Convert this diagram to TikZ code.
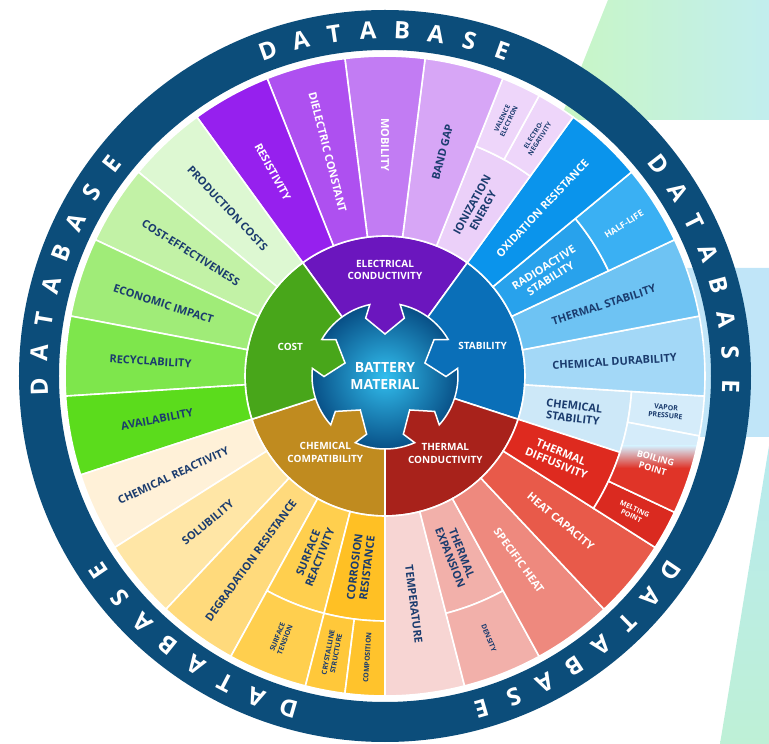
\documentclass[tikz,border=0pt]{standalone}
\usepackage{fontspec}
\setmainfont{Open Sans}
\usetikzlibrary{positioning}

% colours
\definecolor{ringblue}{RGB}{12,77,122}
\definecolor{navytext}{RGB}{27,60,110}
\definecolor{bggreen}{RGB}{200,246,196}
\definecolor{bgcyan}{RGB}{194,238,238}
\definecolor{bgblue}{RGB}{192,229,248}
\definecolor{bgmint}{RGB}{190,240,214}
\definecolor{bgmintb}{RGB}{184,234,238}
\definecolor{hubinner}{RGB}{50,190,238}
\definecolor{hubouter}{RGB}{8,80,135}
% electrical conductivity
\definecolor{ecmid}{RGB}{107,22,190}
\definecolor{resist}{RGB}{150,32,238}
\definecolor{dielec}{RGB}{174,80,240}
\definecolor{mobil}{RGB}{194,124,243}
\definecolor{bandgap}{RGB}{215,166,246}
\definecolor{ioniz}{RGB}{235,208,249}
\definecolor{valence}{RGB}{238,214,250}
% stability
\definecolor{stabmid}{RGB}{10,111,184}
\definecolor{oxid}{RGB}{10,148,236}
\definecolor{radio}{RGB}{40,162,236}
\definecolor{halflife}{RGB}{58,176,243}
\definecolor{thstab}{RGB}{110,195,243}
\definecolor{chemdur}{RGB}{163,216,247}
\definecolor{chemstab}{RGB}{205,232,248}
\definecolor{vapor}{RGB}{213,236,250}
% thermal conductivity
\definecolor{tcmid}{RGB}{168,34,27}
\definecolor{thdiff}{RGB}{222,42,31}
\definecolor{melt}{RGB}{218,42,32}
\definecolor{boilred}{RGB}{224,52,40}
\definecolor{heatcap}{RGB}{232,90,74}
\definecolor{spheat}{RGB}{238,137,126}
\definecolor{thexp}{RGB}{242,176,170}
\definecolor{temper}{RGB}{247,213,211}
% chemical compatibility
\definecolor{ccmid}{RGB}{192,139,31}
\definecolor{corros}{RGB}{255,192,36}
\definecolor{compos}{RGB}{255,195,44}
\definecolor{crystal}{RGB}{255,200,58}
\definecolor{surfreact}{RGB}{255,207,78}
\definecolor{degrad}{RGB}{255,218,124}
\definecolor{solub}{RGB}{255,230,166}
\definecolor{chemreact}{RGB}{255,241,216}
% cost
\definecolor{costmid}{RGB}{72,166,26}
\definecolor{avail}{RGB}{91,220,28}
\definecolor{recyc}{RGB}{126,230,76}
\definecolor{econ}{RGB}{160,236,120}
\definecolor{costeff}{RGB}{194,242,166}
\definecolor{prodcost}{RGB}{221,248,210}

% one cell of the outer wheel: start angle, end angle, inner r, outer r, colour
\newcommand{\ringcell}[5]{%
  \filldraw[fill=#5, draw=white, line width=1.6pt]
    (#1:#3) arc[start angle=#1, end angle=#2, radius=#3]
    -- (#2:#4) arc[start angle=#2, end angle=#1, radius=#4] -- cycle;}
% one wedge of the category ring
\newcommand{\catwedge}[3]{%
  \filldraw[fill=#3, draw=white, line width=1.6pt]
    (0,0) -- (#1:140pt) arc[start angle=#1, end angle=#2, radius=140pt] -- cycle;}

\tikzset{
  lbl/.style={font=\bfseries\fontsize{11}{12.5}\selectfont, text=navytext, align=center, inner sep=0pt},
  lblwhite/.style={lbl, text=white},
  smalllbl/.style={font=\bfseries\fontsize{7}{8}\selectfont, text=navytext, align=center, inner sep=0pt},
  smallwhite/.style={smalllbl, text=white},
  midwhite/.style={font=\bfseries\fontsize{9}{10.5}\selectfont, text=white, align=center, inner sep=0pt},
  catlbl/.style={font=\bfseries\fontsize{10}{12.5}\selectfont, text=white, align=center, inner sep=0pt},
  dbletter/.style={font=\bfseries\fontsize{24}{24}\selectfont, text=white, inner sep=0pt}
}

\begin{document}
\begin{tikzpicture}
  \useasboundingbox (-385pt,-368pt) rectangle (384pt,376pt);

  % pale shapes behind the wheel
  \shade[left color=bggreen, right color=bgcyan] (223pt,376pt) -- (384pt,376pt) -- (384pt,256pt) -- (175pt,256pt) -- cycle;
  \fill[bgblue] (230pt,108pt) -- (384pt,108pt) -- (384pt,-61pt) -- (215pt,-61pt) -- cycle;
  \shade[top color=bgmintb, bottom color=bgmint] (384pt,-70pt) -- (384pt,-368pt) -- (335pt,-368pt) -- cycle;

  % outer ring
  \fill[ringblue, even odd rule] (0,0) circle[radius=366pt] (0,0) circle[radius=326pt];

  % category wedges
  \catwedge{54}{126}{ecmid}
  \catwedge{-18}{54}{stabmid}
  \catwedge{-90}{-18}{tcmid}
  \catwedge{198}{270}{ccmid}
  \catwedge{126}{198}{costmid}

  % stability
  \ringcell{-18}{-3.6}{140pt}{247pt}{chemstab}
  \ringcell{-10.8}{-3.6}{247pt}{320pt}{vapor}
  \ringcell{-3.6}{10.8}{140pt}{320pt}{chemdur}
  \ringcell{10.8}{25.2}{140pt}{320pt}{thstab}
  \ringcell{25.2}{39.6}{140pt}{247pt}{radio}
  \ringcell{25.2}{39.6}{247pt}{320pt}{halflife}
  \ringcell{39.6}{54}{140pt}{320pt}{oxid}
  % electrical conductivity
  \ringcell{54}{68.4}{140pt}{247pt}{ioniz}
  \ringcell{54}{61.2}{247pt}{320pt}{valence}
  \ringcell{61.2}{68.4}{247pt}{320pt}{valence}
  \ringcell{68.4}{82.8}{140pt}{320pt}{bandgap}
  \ringcell{82.8}{97.2}{140pt}{320pt}{mobil}
  \ringcell{97.2}{111.6}{140pt}{320pt}{dielec}
  \ringcell{111.6}{126}{140pt}{320pt}{resist}
  % cost
  \ringcell{126}{140.4}{140pt}{320pt}{prodcost}
  \ringcell{140.4}{154.8}{140pt}{320pt}{costeff}
  \ringcell{154.8}{169.2}{140pt}{320pt}{econ}
  \ringcell{169.2}{183.6}{140pt}{320pt}{recyc}
  \ringcell{183.6}{198}{140pt}{320pt}{avail}
  % chemical compatibility
  \ringcell{198}{212.4}{140pt}{320pt}{chemreact}
  \ringcell{212.4}{226.8}{140pt}{320pt}{solub}
  \ringcell{226.8}{241.2}{140pt}{320pt}{degrad}
  \ringcell{241.2}{255.6}{140pt}{245pt}{surfreact}
  \ringcell{241.2}{255.6}{245pt}{320pt}{surfreact}
  \ringcell{255.6}{270}{140pt}{245pt}{corros}
  \ringcell{255.6}{262.8}{245pt}{320pt}{crystal}
  \ringcell{262.8}{270}{245pt}{320pt}{compos}
  % thermal conductivity
  \ringcell{270}{284.4}{140pt}{320pt}{temper}
  \ringcell{284.4}{298.8}{140pt}{245pt}{thexp}
  \ringcell{284.4}{298.8}{245pt}{320pt}{thexp}
  \ringcell{298.8}{313.2}{140pt}{320pt}{spheat}
  \ringcell{313.2}{327.6}{140pt}{320pt}{heatcap}
  \ringcell{327.6}{342}{140pt}{247pt}{thdiff}
  \ringcell{327.6}{334.8}{247pt}{320pt}{melt}

  % boiling point, fading from blue into red
  \begin{scope}
    \clip (334.8:247pt) arc[start angle=334.8, end angle=349.2, radius=247pt]
      -- (349.2:320pt) arc[start angle=349.2, end angle=334.8, radius=320pt] -- cycle;
    \fill[vapor] (200pt,-30pt) rectangle (330pt,-70pt);
    \shade[top color=vapor, bottom color=boilred] (200pt,-70pt) rectangle (330pt,-92pt);
    \fill[boilred] (200pt,-92pt) rectangle (330pt,-150pt);
  \end{scope}
  \draw[white, line width=1.6pt] (334.8:247pt) arc[start angle=334.8, end angle=349.2, radius=247pt]
      -- (349.2:320pt) arc[start angle=349.2, end angle=334.8, radius=320pt] -- cycle;

  % hub with five arrow notches
  \shadedraw[inner color=hubinner, outer color=hubouter, draw=white, line width=1.5pt]
    (54:73pt) \foreach \c in {90,162,234,306,378} {
      arc[start angle=\c-36, end angle=\c-12, radius=73pt]
      -- (\c-18.5:61pt) -- (\c:42pt) -- (\c+18.5:61pt) -- (\c+12:73pt)
      arc[start angle=\c+12, end angle=\c+36, radius=73pt]
    } -- cycle;
  \node[font=\bfseries\fontsize{14}{17}\selectfont, text=white, align=center] (core) at (0,0) {BATTERY\\MATERIAL};

  % category labels
  \node[catlbl] (ecl) at (90:106pt) {ELECTRICAL\\CONDUCTIVITY};
  \node[catlbl] (stabl) at (17:102pt) {STABILITY};
  \node[catlbl] (tcl) at (-52:98pt) {THERMAL\\CONDUCTIVITY};
  \node[catlbl] (ccl) at (-128:97pt) {CHEMICAL\\COMPATIBILITY};
  \node[catlbl] (costl) at (163:99pt) {COST};

  % stability labels
  \node[lbl, rotate=-7] (chemstabl) at (-10.8:192pt) {CHEMICAL\\STABILITY};
  \node[smalllbl, rotate=-5] (vaporl) at (-7.2:283pt) {VAPOR\\PRESSURE};
  \node[midwhite, rotate=-16] (boill) at (-18:283pt) {BOILING\\POINT};
  \node[lbl, rotate=3.6] (chemdurl) at (3.6:230pt) {CHEMICAL DURABILITY};
  \node[lbl, rotate=18] (thstabl) at (18:230pt) {THERMAL STABILITY};
  \node[lblwhite, rotate=32.4] (radiol) at (32.4:192pt) {RADIOACTIVE\\STABILITY};
  \node[midwhite, rotate=32.4] (halfl) at (32.4:283pt) {HALF-LIFE};
  \node[lblwhite, rotate=46.8] (oxidl) at (46.8:230pt) {OXIDATION RESISTANCE};
  % electrical conductivity labels
  \node[lbl, rotate=61.2] (ionl) at (61.2:192pt) {IONIZATION\\ENERGY};
  \node[smalllbl, font=\bfseries\fontsize{6.5}{7.5}\selectfont, rotate=57.6] (negl) at (57.6:283pt) {ELECTRO-\\NEGATIVITY};
  \node[smalllbl, font=\bfseries\fontsize{6.5}{7.5}\selectfont, rotate=64.8] (vall) at (64.8:283pt) {VALENCE\\ELECTRON};
  \node[lbl, rotate=75.6] (bandl) at (75.6:231pt) {BAND GAP};
  \node[lblwhite, rotate=-90] (mobl) at (90:231pt) {MOBILITY};
  \node[lblwhite, rotate=-75.6] (diell) at (104.4:231pt) {DIELECTRIC CONSTANT};
  \node[lblwhite, rotate=-61.2] (resl) at (118.8:233pt) {RESISTIVITY};
  % cost labels
  \node[lbl, rotate=-46.8] (prodl) at (133.2:230pt) {PRODUCTION COSTS};
  \node[lbl, rotate=-32.4] (costeffl) at (147.6:230pt) {COST-EFFECTIVENESS};
  \node[lbl, rotate=-18] (econl) at (162:233pt) {ECONOMIC IMPACT};
  \node[lbl, rotate=-3.6] (recycl) at (176.4:235pt) {RECYCLABILITY};
  \node[lbl, rotate=10.8] (availl) at (190.8:232pt) {AVAILABILITY};
  % chemical compatibility labels
  \node[lbl, rotate=25.2] (chemreactl) at (205.2:234pt) {CHEMICAL REACTIVITY};
  \node[lbl, rotate=39.6] (solubl) at (219.6:230pt) {SOLUBILITY};
  \node[lbl, rotate=54] (degradl) at (234:228pt) {DEGRADATION RESISTANCE};
  \node[lbl, rotate=68.4] (surfreactl) at (248.4:193pt) {SURFACE\\REACTIVITY};
  \node[lbl, rotate=82.8] (corrosl) at (262.8:193pt) {CORROSION\\RESISTANCE};
  \node[smalllbl, rotate=68.4] (surftenl) at (248.4:282pt) {SURFACE\\TENSION};
  \node[smalllbl, rotate=79.2] (crystl) at (259.2:282pt) {CRYSTALLINE\\STRUCTURE};
  \node[smalllbl, rotate=86.4] (composl) at (266.4:282pt) {COMPOSITION};
  % thermal conductivity labels
  \node[lbl, rotate=-82.8] (templ) at (277.2:230pt) {TEMPERATURE};
  \node[lbl, rotate=-68.4] (thexpl) at (291.6:193pt) {THERMAL\\EXPANSION};
  \node[smalllbl, rotate=-68.4] (densl) at (291.6:282pt) {DENSITY};
  \node[lblwhite, rotate=-54] (spheatl) at (306:228pt) {SPECIFIC HEAT};
  \node[lblwhite, rotate=-39.6] (heatcapl) at (320.4:228pt) {HEAT CAPACITY};
  \node[lblwhite, rotate=-22] (thdiffl) at (334.8:192pt) {THERMAL\\DIFFUSIVITY};
  \node[smallwhite, rotate=-25] (meltl) at (331.2:283pt) {MELTING\\POINT};

  % lettering round the ring
  \foreach \c [count=\k] in {90,18,-54,-126,162} {
    \foreach \l [count=\i from 0] in {D,A,T,A,B,A,S,E} {
      \node[dbletter, rotate={\c+(3.5-\i)*5.65-90}] (db\k\i) at ({\c+(3.5-\i)*5.65}:346pt) {\l};
    }
  }
\end{tikzpicture}
\end{document}
